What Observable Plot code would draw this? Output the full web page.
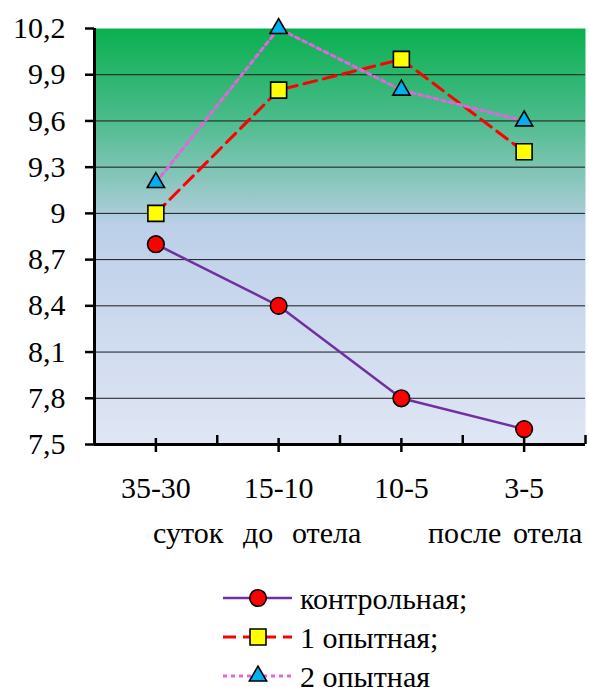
<!DOCTYPE html>
<html><head><meta charset="utf-8">
<script src="https://cdn.jsdelivr.net/npm/d3@7"></script>
<script src="https://cdn.jsdelivr.net/npm/@observablehq/plot@0.6"></script>
<style>
body{margin:0;background:#fff;font-family:"Liberation Serif",Tinos,"Times New Roman","DejaVu Serif",serif;}
#wrap{position:relative;width:589px;height:687px;color:#000;overflow:hidden;}
#chart{position:absolute;left:0;top:0;}
#extra{position:absolute;left:0;top:0;}
</style></head><body>
<div id="wrap"><div id="chart"></div><svg id="extra" width="589" height="687"></svg></div>
<script>
// ---- data ----
const periods = ["35-30", "15-10", "10-5", "3-5"];
const control = [8.8, 8.4, 7.8, 7.6];
const exp1 = [9.0, 9.8, 10.0, 9.4];
const exp2 = [9.2, 10.2, 9.8, 9.6];
const yTicks = [7.5, 7.8, 8.1, 8.4, 8.7, 9.0, 9.3, 9.6, 9.9, 10.2];
const seriesNames = ["контрольная;", "1 опытная;", "2 опытная"];
const subWords = ["суток", "до", "отела", "после", "отела"];

// ---- styles ----
const FONT = "'Liberation Serif', Tinos, 'Times New Roman', 'DejaVu Serif', serif";
const styles = [
  {stroke: "#7030a0", width: 2.5, dash: null, symbol: "circle", fill: "#ff0000", r: 8.3},
  {stroke: "#ff0000", width: 3, dash: "13,7", symbol: "square", fill: "#ffff00", r: 9},
  {stroke: "#e066dc", width: 3, dash: "4,4", symbol: "triangle", fill: "#00b0f0", r: 6.4}
];
const seriesVals = [control, exp1, exp2];
const rows = seriesVals.map((vals, s) => periods.map((p, i) => ({s, i: i + 1, v: vals[i]})));

const fmt = v => String(+(+v).toFixed(1)).replace(".", ",");

const lineMarks = rows.map((d, s) => Plot.line(d, {x: "i", y: "v", stroke: styles[s].stroke, strokeWidth: styles[s].width, strokeDasharray: styles[s].dash}));
const dotMarks = rows.map((d, s) => Plot.dot(d, {x: "i", y: "v", symbol: () => styles[s].symbol, r: styles[s].r, fill: styles[s].fill, stroke: "#000", strokeWidth: 1.6}));

const plot = Plot.plot({
  width: 589, height: 520,
  marginLeft: 94, marginRight: 4, marginTop: 28, marginBottom: 76,
  style: {fontFamily: FONT, fontSize: "30px", background: "transparent", overflow: "visible"},
  x: {domain: [0.5, 4.5], axis: null, label: null},
  y: {domain: [7.5, 10.2], axis: null, label: null},
  symbol: {type: "identity"},
  marks: [
    Plot.frame({fill: "url(#bgGrad)", stroke: "none"}),
    Plot.ruleY(yTicks.slice(1, -1), {stroke: "#1a1a1a", strokeWidth: 1}),
    Plot.axisY({ticks: yTicks, tickFormat: fmt, tickSize: 9, tickPadding: 20, strokeWidth: 2.5, fontSize: 30, color: "#000", label: null}),
    Plot.axisX({ticks: [1, 2, 3, 4], tickSize: 14, dy: -6, tickFormat: () => "", strokeWidth: 2.5, label: null}),
    Plot.axisX({ticks: [1.5, 2.5, 3.5, 4.5], tickSize: 9, dy: -9, tickFormat: () => "", strokeWidth: 2.5, label: null}),
    Plot.axisX({ticks: [1, 2, 3, 4], tickSize: 0, tickPadding: 32, tickFormat: i => periods[i - 1], fontSize: 30, label: null}),
    Plot.ruleX([0.5], {stroke: "#000", strokeWidth: 3}),
    Plot.ruleY([7.5], {stroke: "#000", strokeWidth: 3}),
    ...lineMarks,
    ...dotMarks
  ]
});

const ns = "http://www.w3.org/2000/svg";
const defs = document.createElementNS(ns, "defs");
defs.innerHTML = `<linearGradient id="bgGrad" x1="0" y1="0" x2="0" y2="1">
  <stop offset="0" stop-color="#0ab050"/>
  <stop offset="0.2" stop-color="#45ba86"/>
  <stop offset="0.43" stop-color="#a4cbd2"/>
  <stop offset="0.47" stop-color="#bccfe9"/>
  <stop offset="1" stop-color="#e0e6f4"/>
</linearGradient>`;
plot.insertBefore(defs, plot.firstChild);
plot.setAttribute("font-family", FONT);
document.getElementById("chart").appendChild(plot);

// ---- second label row and legend ----
const extra = d3.select("#extra").attr("font-family", FONT);
const wordX = [153, 243, 292, 428, 513];
extra.selectAll("text.sub").data(subWords).join("text")
  .attr("class", "sub").attr("x", (d, i) => wordX[i]).attr("y", 543)
  .attr("font-size", 30).text(d => d);

const legY = [598, 637, 676];
const symGen = {circle: d3.symbolCircle, square: d3.symbolSquare, triangle: d3.symbolTriangle};
seriesNames.forEach((name, s) => {
  const st = styles[s];
  const g = extra.append("g");
  g.append("line").attr("x1", 223).attr("x2", 292).attr("y1", legY[s]).attr("y2", legY[s])
    .attr("stroke", st.stroke).attr("stroke-width", st.width)
    .attr("stroke-dasharray", st.dash);
  g.append("path").attr("transform", `translate(258,${legY[s]})`)
    .attr("d", d3.symbol(symGen[st.symbol], Math.PI * st.r * st.r)())
    .attr("fill", st.fill).attr("stroke", "#000").attr("stroke-width", 1.6);
  g.append("text").attr("x", 300).attr("y", legY[s] + 11).attr("font-size", 30).text(name);
});
</script>
</body></html>
